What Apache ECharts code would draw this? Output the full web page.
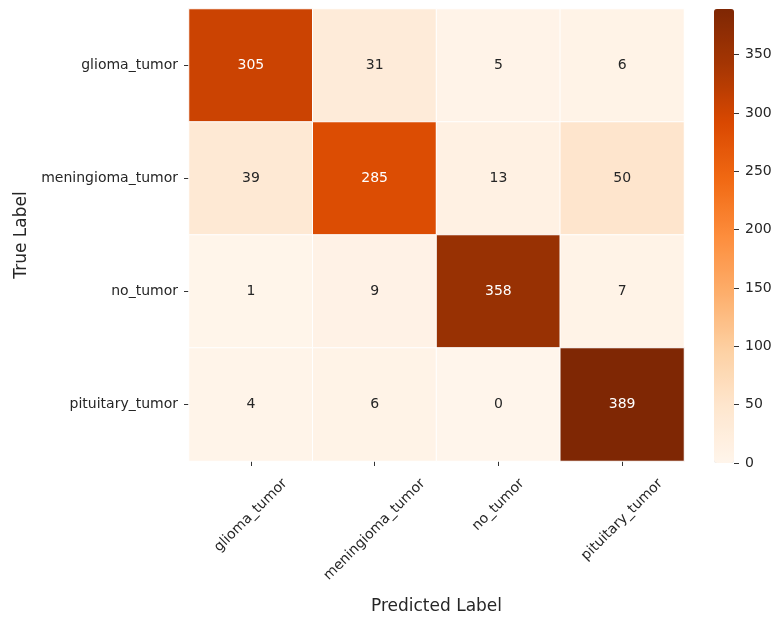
<!DOCTYPE html>
<html>
<head>
<meta charset="utf-8">
<script src="https://cdn.jsdelivr.net/npm/echarts@6/dist/echarts.min.js"></script>
<style>
html, body { margin: 0; padding: 0; background: #fff; }
#chart { width: 779px; height: 620px; }
</style>
</head>
<body>
<div id="chart"></div>
<script>
var classNames = ['glioma_tumor', 'meningioma_tumor', 'no_tumor', 'pituitary_tumor'];
// rows = true label, cols = predicted label
var confusion = [
    [305, 31, 5, 6],
    [39, 285, 13, 50],
    [1, 9, 358, 7],
    [4, 6, 0, 389]
];
var colorbarTicks = [0, 50, 100, 150, 200, 250, 300, 350];
var colorMin = 0;
var colorMax = 389;
var oranges = ['#fff5eb', '#fee6ce', '#fdd0a2', '#fdae6b', '#fd8d3c', '#f16913', '#d94801', '#a63603', '#7f2704'];

var FONT = '"DejaVu Sans", sans-serif';
var TEXT = '#262626';

var cells = [];
confusion.forEach(function (row, r) {
    row.forEach(function (v, c) {
        cells.push({
            value: [c, r, v],
            label: { color: v > 200 ? '#ffffff' : TEXT }
        });
    });
});

// matplotlib centres rotated tick labels under the tick, echarts hangs them
// from their end, so push each one down by its own size
var ctx = document.createElement('canvas').getContext('2d');
ctx.font = '14px "DejaVu Sans"';
var rich = {};
classNames.forEach(function (name, i) {
    var w = ctx.measureText(name).width;
    var d = 4 + (w + 18) * 0.3535;
    var p = Math.round(1.414 * d);
    rich['c' + i] = { fontSize: 14, fontFamily: FONT, color: TEXT, padding: [p, p, 0, 0] };
});

// axis line must be "on" for ticks to draw, keep it invisible
var hiddenLine = { show: true, onZero: false, lineStyle: { color: 'rgba(0,0,0,0)' } };
var tickStyle = { show: true, length: 5, lineStyle: { color: '#333', width: 1 } };

var chart = echarts.init(document.getElementById('chart'));
chart.setOption({
    backgroundColor: '#fff',
    animation: false,
    grid: [
        { left: 189, top: 9, width: 495, height: 454 },
        { left: 714, top: 9, width: 20, height: 454 }
    ],
    xAxis: [{
        type: 'category',
        gridIndex: 0,
        data: classNames,
        name: 'Predicted Label',
        nameLocation: 'middle',
        nameGap: 137,
        nameTextStyle: { fontSize: 17, fontFamily: FONT, color: TEXT },
        axisLine: hiddenLine,
        axisTick: Object.assign({ alignWithLabel: true }, tickStyle),
        splitArea: { show: false },
        axisLabel: {
            interval: 0,
            rotate: 45,
            align: 'center',
            verticalAlign: 'middle',
            margin: 10,
            formatter: function (value, index) {
                return '{c' + index + '|' + value + '}';
            },
            rich: rich
        }
    }, {
        type: 'value',
        gridIndex: 1,
        show: false,
        min: 0,
        max: 1
    }],
    yAxis: [{
        type: 'category',
        gridIndex: 0,
        data: classNames,
        inverse: true,
        name: 'True Label',
        nameLocation: 'middle',
        nameGap: 157,
        nameTextStyle: { fontSize: 17, fontFamily: FONT, color: TEXT },
        axisLine: hiddenLine,
        axisTick: Object.assign({ alignWithLabel: true }, tickStyle),
        splitArea: { show: false },
        axisLabel: { fontSize: 14, fontFamily: FONT, color: TEXT, margin: 11 }
    }, {
        type: 'value',
        gridIndex: 1,
        position: 'right',
        min: colorMin,
        max: colorMax,
        interval: 50,
        z: 10,
        axisLine: hiddenLine,
        splitLine: { show: false },
        axisTick: tickStyle,
        axisLabel: {
            fontSize: 14, fontFamily: FONT, color: TEXT, margin: 11,
            showMaxLabel: false,
            formatter: function (v) {
                return colorbarTicks.indexOf(v) >= 0 ? String(v) : '';
            }
        }
    }],
    visualMap: {
        type: 'continuous',
        seriesIndex: 0,
        dimension: 2,
        min: colorMin,
        max: colorMax,
        calculable: false,
        left: 714,
        top: 9,
        padding: 0,
        itemWidth: 20,
        itemHeight: 454,
        inRange: { color: oranges }
    },
    series: [{
        type: 'heatmap',
        xAxisIndex: 0,
        yAxisIndex: 0,
        data: cells,
        itemStyle: { borderColor: '#fff', borderWidth: 1 },
        label: { show: true, fontSize: 14, fontFamily: FONT },
        emphasis: { disabled: true }
    }]
});
</script>
</body>
</html>
